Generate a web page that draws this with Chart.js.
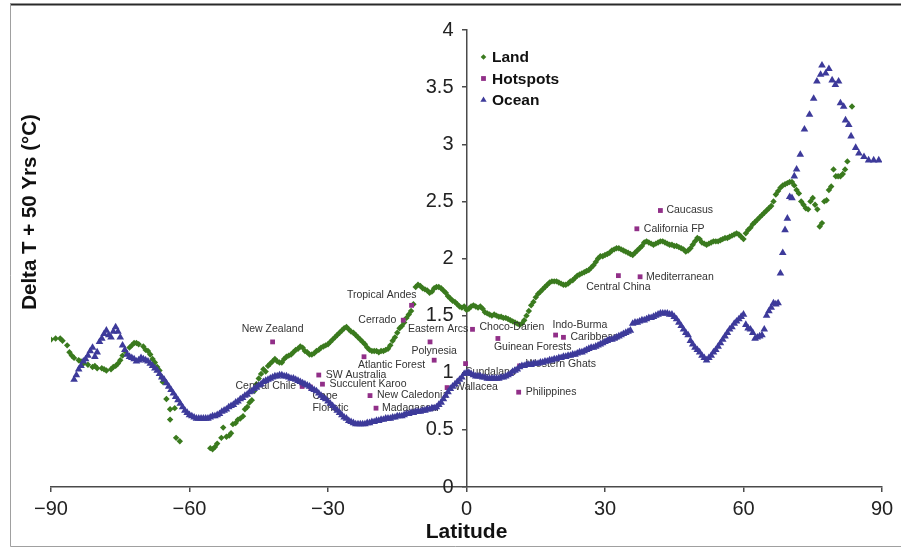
<!DOCTYPE html>
<html>
<head>
<meta charset="utf-8">
<title>Delta T by latitude</title>
<script src="https://cdn.jsdelivr.net/npm/chart.js@4.4.1/dist/chart.umd.min.js"></script>
<style>
  html, body { margin: 0; padding: 0; background: #fff; }
  canvas { display: block; }
</style>
</head>
<body>
<canvas id="lat-chart" width="901" height="549"></canvas>
<script>
// Land (green diamonds)
const landLat = [
  -90, -89, -88, -87.5, -86.5, -86, -85.5, -85, -84, -83.5,
  -83, -82, -81, -80.5, -80, -79, -78.5, -78, -77, -76.5,
  -76, -75.5, -75, -74.5, -74, -73, -72.5, -72, -71.5, -71,
  -70, -69.5, -69, -68.5, -68, -67.5, -67, -66.5, -66, -65.8,
  -65, -64.2, -63.2, -64.2, -62.9, -62.1, -55.5, -55, -54.5, -54,
  -53.1, -52.7, -52, -51.4, -51, -50.6, -50, -49.5, -49, -48.4,
  -48, -47.5, -47, -46.5, -46, -45.5, -45, -44.5, -44, -43.5,
  -43, -42.5, -42, -41.5, -41, -40.5, -40, -39.5, -39, -38.5,
  -38, -37.5, -37, -36.5, -36, -35.5, -35, -34.5, -34, -33.5,
  -33, -32.5, -32, -31.5, -31, -30.5, -30, -29.5, -29, -28.5,
  -28, -27.5, -27, -26.5, -26, -25.5, -25, -24.5, -24, -23.5,
  -23, -22.5, -22, -21.5, -21, -20.5, -20, -19.5, -19, -18.5,
  -18, -17.5, -17, -16.5, -16, -15.5, -15, -14.5, -14, -13.5,
  -13, -12.5, -12, -11.5, -11, -10.5, -10, -9.5, -9, -8.5,
  -8, -7.5, -7, -6.5, -6, -5.5, -5, -4.5, -4, -3.5,
  -3, -2.5, -2, -1.5, -1, -0.5, 0, 0.5, 1, 1.5,
  2, 2.5, 3, 3.5, 4, 4.5, 5, 5.5, 6, 6.5,
  7, 7.5, 8, 8.5, 9, 9.5, 10, 10.5, 11, 11.5,
  12, 12.5, 13, 13.5, 14, 14.5, 15, 15.5, 16, 16.5,
  17, 17.5, 18, 18.5, 19, 19.5, 20, 20.5, 21, 21.5,
  22, 22.5, 23, 23.5, 24, 24.5, 25, 25.5, 26, 26.5,
  27, 27.5, 28, 28.5, 29, 29.5, 30, 30.5, 31, 31.5,
  32, 32.5, 33, 33.5, 34, 34.5, 35, 35.5, 36, 36.5,
  37, 37.5, 38, 38.5, 39, 39.5, 40, 40.5, 41, 41.5,
  42, 42.5, 43, 43.5, 44, 44.5, 45, 45.5, 46, 46.5,
  47, 47.5, 48, 48.5, 49, 49.5, 50, 50.5, 51, 51.5,
  52, 52.5, 53, 53.5, 54, 54.5, 55, 55.5, 56, 56.5,
  57, 57.5, 58, 58.5, 59, 59.5, 60, 60.5, 61, 61.5,
  62, 62.5, 63, 63.5, 64, 64.5, 65, 65.5, 66, 66.5,
  67, 67.5, 68, 68.5, 69, 69.5, 70, 70.5, 71, 71.5,
  72, 72.5, 73, 73.5, 74, 74.5, 75, 75.5, 76, 76.5,
  77, 77.5, 78, 78.5, 79, 79.5, 80, 80.5, 81, 81.5,
  82, 82.5, 83.5
];
const landDelta = [
  1.29, 1.30, 1.30, 1.28, 1.24, 1.18, 1.15, 1.13, 1.11, 1.10,
  1.08, 1.07, 1.05, 1.06, 1.04, 1.04, 1.03, 1.02, 1.03, 1.05,
  1.06, 1.08, 1.11, 1.15, 1.19, 1.22, 1.24, 1.26, 1.26, 1.25,
  1.23, 1.20, 1.19, 1.16, 1.12, 1.09, 1.05, 1.02, 0.96, 0.92,
  0.77, 0.68, 0.69, 0.59, 0.43, 0.40, 0.34, 0.33, 0.35, 0.38,
  0.43, 0.52, 0.44, 0.45, 0.47, 0.55, 0.56, 0.59, 0.60, 0.62,
  0.68, 0.70, 0.74, 0.76, 0.84, 0.90, 0.95, 0.99, 1.03, 1.01,
  1.06, 1.08, 1.10, 1.12, 1.10, 1.09, 1.09, 1.12, 1.14, 1.15,
  1.16, 1.18, 1.20, 1.21, 1.23, 1.22, 1.19, 1.18, 1.16, 1.16,
  1.17, 1.19, 1.20, 1.22, 1.23, 1.24, 1.25, 1.27, 1.29, 1.31,
  1.33, 1.35, 1.37, 1.39, 1.40, 1.38, 1.36, 1.35, 1.33, 1.31,
  1.29, 1.27, 1.25, 1.22, 1.20, 1.19, 1.19, 1.19, 1.18, 1.19,
  1.19, 1.20, 1.21, 1.24, 1.28, 1.31, 1.35, 1.39, 1.41, 1.44,
  1.48, 1.51, 1.54, 1.60, 1.75, 1.77, 1.76, 1.74, 1.73, 1.72,
  1.70, 1.71, 1.74, 1.75, 1.75, 1.74, 1.72, 1.70, 1.67, 1.65,
  1.63, 1.62, 1.60, 1.58, 1.57, 1.58, 1.55, 1.56, 1.58, 1.59,
  1.58, 1.57, 1.58, 1.56, 1.53, 1.52, 1.51, 1.50, 1.51, 1.50,
  1.49, 1.49, 1.48, 1.48, 1.47, 1.46, 1.45, 1.44, 1.43, 1.42,
  1.43, 1.46, 1.50, 1.54, 1.59, 1.62, 1.66, 1.69, 1.71, 1.73,
  1.75, 1.77, 1.79, 1.80, 1.80, 1.80, 1.79, 1.78, 1.77, 1.77,
  1.78, 1.80, 1.81, 1.83, 1.85, 1.86, 1.87, 1.88, 1.89, 1.90,
  1.92, 1.94, 1.97, 2.00, 2.02, 2.02, 2.03, 2.04, 2.05, 2.07,
  2.08, 2.09, 2.09, 2.08, 2.07, 2.06, 2.05, 2.04, 2.03, 2.05,
  2.07, 2.09, 2.11, 2.14, 2.15, 2.14, 2.13, 2.12, 2.13, 2.14,
  2.15, 2.15, 2.14, 2.13, 2.12, 2.12, 2.11, 2.11, 2.10, 2.09,
  2.08, 2.06, 2.07, 2.09, 2.12, 2.15, 2.18, 2.17, 2.14, 2.13,
  2.12, 2.13, 2.14, 2.15, 2.15, 2.15, 2.16, 2.17, 2.18, 2.18,
  2.19, 2.20, 2.21, 2.22, 2.21, 2.19, 2.17, 2.22, 2.25, 2.27,
  2.30, 2.32, 2.34, 2.36, 2.38, 2.40, 2.42, 2.44, 2.46, 2.50,
  2.56, 2.59, 2.62, 2.64, 2.65, 2.66, 2.67, 2.67, 2.64, 2.60,
  2.57, 2.50, 2.47, 2.44, 2.43, 2.50, 2.53, 2.47, 2.43, 2.28,
  2.31, 2.50, 2.51, 2.60, 2.63, 2.78, 2.72, 2.72, 2.72, 2.74,
  2.78, 2.85, 3.33
];

// Ocean (blue triangles)
const oceanLat = [
  -85, -84.5, -84, -83.5, -83, -82.5, -82, -81.5, -81, -80.5,
  -80, -79.5, -79, -78.5, -78, -77.5, -77, -76.5, -76, -75.5,
  -75, -74.5, -74, -73.5, -73, -72.5, -72, -71.5, -71, -70.5,
  -70, -69.5, -69, -68.5, -68, -67.5, -67, -66.5, -66, -65.5,
  -65, -64.5, -64, -63.5, -63, -62.5, -62, -61.5, -61, -60.5,
  -60, -59.5, -59, -58.5, -58, -57.5, -57, -56.5, -56, -55.5,
  -55, -54.5, -54, -53.5, -53, -52.5, -52, -51.5, -51, -50.5,
  -50, -49.5, -49, -48.5, -48, -47.5, -47, -46.5, -46, -45.5,
  -45, -44.5, -44, -43.5, -43, -42.5, -42, -41.5, -41, -40.5,
  -40, -39.5, -39, -38.5, -38, -37.5, -37, -36.5, -36, -35.5,
  -35, -34.5, -34, -33.5, -33, -32.5, -32, -31.5, -31, -30.5,
  -30, -29.5, -29, -28.5, -28, -27.5, -27, -26.5, -26, -25.5,
  -25, -24.5, -24, -23.5, -23, -22.5, -22, -21.5, -21, -20.5,
  -20, -19.5, -19, -18.5, -18, -17.5, -17, -16.5, -16, -15.5,
  -15, -14.5, -14, -13.5, -13, -12.5, -12, -11.5, -11, -10.5,
  -10, -9.5, -9, -8.5, -8, -7.5, -7, -6.5, -6, -5.5,
  -5, -4.5, -4, -3.5, -3, -2.5, -2, -1.5, -1, -0.5,
  0, 0.5, 1, 1.5, 2, 2.5, 3, 3.5, 4, 4.5,
  5, 5.5, 6, 6.5, 7, 7.5, 8, 8.5, 9, 9.5,
  10, 10.5, 11, 11.5, 12, 12.5, 13, 13.5, 14, 14.5,
  15, 15.5, 16, 16.5, 17, 17.5, 18, 18.5, 19, 19.5,
  20, 20.5, 21, 21.5, 22, 22.5, 23, 23.5, 24, 24.5,
  25, 25.5, 26, 26.5, 27, 27.5, 28, 28.5, 29, 29.5,
  30, 30.5, 31, 31.5, 32, 32.5, 33, 33.5, 34, 34.5,
  35, 35.5, 36, 36.5, 37, 37.5, 38, 38.5, 39, 39.5,
  40, 40.5, 41, 41.5, 42, 42.5, 43, 43.5, 44, 44.5,
  45, 45.5, 46, 46.5, 47, 47.5, 48, 48.5, 49, 49.5,
  50, 50.5, 51, 51.5, 52, 52.5, 53, 53.5, 54, 54.5,
  55, 55.5, 56, 56.5, 57, 57.5, 58, 58.5, 59, 59.5,
  60, 60.5, 61, 61.5, 62, 62.5, 63, 63.5, 64, 64.5,
  65, 65.5, 66, 66.5, 67, 67.5, 68, 68.5, 69, 69.5,
  70, 70.5, 71, 71.5, 72.3, 73.2, 74.3, 75.2, 75.9, 76.7,
  77, 77.8, 78.5, 79.2, 79.9, 80.6, 81, 81.7, 82.1, 82.8,
  83.3, 84.3, 85, 86.1, 87.1, 88.2, 89.3
];
const oceanDelta = [
  0.94, 0.98, 1.03, 1.06, 1.10, 1.12, 1.15, 1.19, 1.22, 1.14,
  1.18, 1.27, 1.30, 1.34, 1.37, 1.33, 1.31, 1.36, 1.40, 1.36,
  1.31, 1.24, 1.20, 1.16, 1.14, 1.13, 1.12, 1.10, 1.11, 1.13,
  1.12, 1.11, 1.10, 1.08, 1.06, 1.04, 1.02, 0.99, 0.96, 0.94,
  0.91, 0.88, 0.85, 0.82, 0.79, 0.76, 0.73, 0.70, 0.67, 0.65,
  0.63, 0.62, 0.61, 0.60, 0.60, 0.60, 0.60, 0.60, 0.60, 0.61,
  0.62, 0.62, 0.63, 0.64, 0.66, 0.67, 0.68, 0.70, 0.71, 0.72,
  0.74, 0.75, 0.77, 0.78, 0.80, 0.81, 0.83, 0.84, 0.86, 0.87,
  0.89, 0.90, 0.92, 0.93, 0.94, 0.95, 0.96, 0.97, 0.97, 0.98,
  0.98, 0.97, 0.97, 0.96, 0.95, 0.95, 0.94, 0.93, 0.92, 0.91,
  0.90, 0.89, 0.88, 0.86, 0.85, 0.84, 0.82, 0.80, 0.78, 0.77,
  0.75, 0.73, 0.71, 0.69, 0.67, 0.65, 0.63, 0.61, 0.60, 0.58,
  0.57, 0.56, 0.55, 0.55, 0.55, 0.55, 0.55, 0.56, 0.56, 0.57,
  0.57, 0.58, 0.58, 0.59, 0.59, 0.60, 0.60, 0.60, 0.61, 0.61,
  0.62, 0.62, 0.62, 0.63, 0.64, 0.64, 0.65, 0.65, 0.66, 0.66,
  0.66, 0.67, 0.67, 0.68, 0.68, 0.69, 0.69, 0.70, 0.72, 0.74,
  0.77, 0.80, 0.83, 0.86, 0.88, 0.90, 0.92, 0.94, 0.96, 0.99,
  1.00, 1.00, 0.99, 0.98, 0.97, 0.97, 0.97, 0.96, 0.96, 0.95,
  0.95, 0.95, 0.95, 0.95, 0.95, 0.96, 0.96, 0.97, 0.98, 0.99,
  1.01, 1.02, 1.03, 1.05, 1.06, 1.06, 1.07, 1.07, 1.07, 1.08,
  1.08, 1.08, 1.09, 1.09, 1.10, 1.10, 1.11, 1.11, 1.12, 1.12,
  1.13, 1.13, 1.14, 1.14, 1.15, 1.15, 1.16, 1.16, 1.17, 1.18,
  1.18, 1.19, 1.20, 1.21, 1.22, 1.22, 1.23, 1.24, 1.25, 1.26,
  1.27, 1.28, 1.29, 1.29, 1.30, 1.31, 1.32, 1.33, 1.34, 1.35,
  1.36, 1.37, 1.43, 1.44, 1.44, 1.45, 1.46, 1.46, 1.47, 1.48,
  1.48, 1.49, 1.50, 1.51, 1.52, 1.52, 1.52, 1.52, 1.51, 1.51,
  1.49, 1.47, 1.44, 1.41, 1.38, 1.35, 1.33, 1.28, 1.25, 1.22,
  1.20, 1.18, 1.15, 1.13, 1.11, 1.13, 1.15, 1.18, 1.20, 1.23,
  1.26, 1.29, 1.32, 1.35, 1.38, 1.40, 1.43, 1.45, 1.47, 1.49,
  1.51, 1.42, 1.39, 1.38, 1.35, 1.30, 1.31, 1.32, 1.33, 1.38,
  1.50, 1.54, 1.57, 1.61, 1.60, 1.61, 1.87, 2.05, 2.25, 2.35,
  2.54, 2.53, 2.72, 2.78, 2.91, 3.13, 3.26, 3.40, 3.55, 3.61,
  3.69, 3.62, 3.66, 3.56, 3.52, 3.55, 3.36, 3.33, 3.21, 3.17,
  3.07, 2.97, 2.92, 2.89, 2.86, 2.86, 2.86
];

// Hotspots (purple squares with names)
const hotspotNames = [
  'New Zealand', 'Central Chile', 'SW Australia', 'Succulent Karoo', 'Cape\nFloristic',
  'New Caledonia', 'Madagascar', 'Atlantic Forest', 'Cerrado', 'Tropical Andes',
  'Eastern Arcs', 'Polynesia', 'Sundaland', 'Wallacea', 'Choco-Darien',
  'Guinean Forests', 'Indo-Burma', 'Caribbean', 'Western Ghats', 'Philippines',
  'Central China', 'Mediterranean', 'California FP', 'Caucasus'
];
const hotspotLat = [
  -42, -35.6, -32, -31.2, -33.8,
  -20.9, -19.6, -22.2, -13.7, -11.9,
  -7.9, -7, -0.2, -4.2, 1.3,
  6.8, 19.3, 21, 11.5, 11.3,
  32.9, 37.6, 36.9, 42
];
const hotspotDelta = [
  1.27, 0.88, 0.98, 0.90, 0.875,
  0.80, 0.69, 1.14, 1.46, 1.59,
  1.27, 1.11, 1.08, 0.87, 1.38,
  1.30, 1.33, 1.31, 1.06, 0.83,
  1.85, 1.84, 2.26, 2.42
];

// Axis ticks
const xTicks = [-90, -60, -30, 0, 30, 60, 90];
const yTicks = [0, 0.5, 1, 1.5, 2, 2.5, 3, 3.5, 4];

// Label placement for hotspot names: [dx, dy, align]
const labelPlacement = {
  'New Zealand': [0, -13, 'center'],
  'Central Chile': [-6, 0, 'right'],
  'SW Australia': [7, 0, 'left'],
  'Succulent Karoo': [7, 0, 'left'],
  'Cape\nFloristic': [2, 9, 'left'],
  'New Caledonia': [7, 0, 'left'],
  'Madagascar': [6, 0, 'left'],
  'Atlantic Forest': [-6, 8, 'left'],
  'Cerrado': [-7, 0, 'right'],
  'Tropical Andes': [5, -10, 'right'],
  'Eastern Arcs': [-22, -13, 'left'],
  'Polynesia': [0, -9, 'center'],
  'Sundaland': [0, 8.5, 'left'],
  'Wallacea': [8, 0, 'left'],
  'Choco-Darien': [7, -2, 'left'],
  'Guinean Forests': [-4, 9, 'left'],
  'Indo-Burma': [-3, -10, 'left'],
  'Caribbean': [7, 0, 'left'],
  'Western Ghats': [6.5, -2, 'left'],
  'Philippines': [7, 0, 'left'],
  'Central China': [0, 11, 'center'],
  'Mediterranean': [6, 0, 'left'],
  'California FP': [7, 0, 'left'],
  'Caucasus': [6, 0, 'left']
};

const landColor = '#3a7a1e';
const hotspotColor = '#912f88';
const oceanColor = '#3d3a9a';
const axisColor = '#4a4a4a';
const fontFamily = '"Liberation Sans", Arial, sans-serif';

function toPoints(xs, ys) {
  return xs.map((x, i) => ({ x: x, y: ys[i] }));
}

// Hotspot names, drawn right after the squares so the ocean marks sit on top
const hotspotLabels = {
  id: 'hotspotLabels',
  afterDatasetDraw(chart, args) {
    if (args.index !== 1) return;
    const ctx = chart.ctx;
    const meta = chart.getDatasetMeta(1);
    ctx.save();
    ctx.font = '10.5px ' + fontFamily;
    ctx.fillStyle = '#333';
    ctx.textBaseline = 'middle';
    meta.data.forEach((pt, i) => {
      const name = hotspotNames[i];
      const place = labelPlacement[name] || [7, 0, 'left'];
      ctx.textAlign = place[2];
      name.split('\n').forEach((line, k) => {
        ctx.fillText(line, pt.x + place[0], pt.y + place[1] + k * 12);
      });
    });
    ctx.restore();
  }
};

// Legend, y tick labels, y title and frame
const decorations = {
  id: 'decorations',
  beforeDraw(chart) {
    const ctx = chart.ctx;
    ctx.save();
    ctx.fillStyle = '#fff';
    ctx.fillRect(0, 0, chart.width, chart.height);
    ctx.restore();
  },
  afterDraw(chart) {
    const ctx = chart.ctx;
    const xScale = chart.scales.x;
    const yScale = chart.scales.y;
    ctx.save();

    // frame
    ctx.strokeStyle = '#2a2a2a';
    ctx.lineWidth = 2;
    ctx.beginPath();
    ctx.moveTo(10, 4.5);
    ctx.lineTo(901, 4.5);
    ctx.stroke();
    ctx.strokeStyle = '#a0a0a0';
    ctx.lineWidth = 1;
    ctx.beginPath();
    ctx.moveTo(10.5, 4);
    ctx.lineTo(10.5, 546.5);
    ctx.lineTo(901, 546.5);
    ctx.stroke();

    // y tick labels, left of the axis that sits at latitude 0
    const axisX = xScale.getPixelForValue(0);
    ctx.fillStyle = '#222';
    ctx.font = '20px ' + fontFamily;
    ctx.textAlign = 'right';
    ctx.textBaseline = 'middle';
    yTicks.forEach((v) => {
      ctx.fillText(String(v), axisX - 13, yScale.getPixelForValue(v));
    });

    // y axis title
    ctx.fillStyle = '#111';
    ctx.font = 'bold 20.5px ' + fontFamily;
    ctx.textAlign = 'center';
    ctx.translate(30, 212);
    ctx.rotate(-Math.PI / 2);
    ctx.fillText('Delta T + 50 Yrs (\u00B0C)', 0, 0);
    ctx.setTransform(1, 0, 0, 1, 0, 0);

    // legend
    const items = [
      { text: 'Land', color: landColor, style: 'rectRot', radius: 2.8, y: 58 },
      { text: 'Hotspots', color: hotspotColor, style: 'rect', radius: 3.4, y: 79.5 },
      { text: 'Ocean', color: oceanColor, style: 'triangle', radius: 3.6, y: 101 }
    ];
    ctx.font = 'bold 15.5px ' + fontFamily;
    ctx.textAlign = 'left';
    items.forEach((it) => {
      ctx.fillStyle = it.color;
      Chart.helpers.drawPoint(ctx, { pointStyle: it.style, radius: it.radius, borderWidth: 0, rotation: 0 }, 483.5, it.y - 1);
      ctx.fillStyle = '#111';
      ctx.fillText(it.text, 492, it.y);
    });
    ctx.restore();
  }
};

function initChart() {
  const canvas = document.getElementById('lat-chart');
  const ctx = canvas.getContext('2d');

  new Chart(ctx, {
    type: 'scatter',
    data: {
      datasets: [{
        label: 'Land',
        data: toPoints(landLat, landDelta),
        pointStyle: 'rectRot',
        pointRadius: 3.2,
        backgroundColor: landColor,
        borderColor: landColor,
        borderWidth: 0,
        order: 3
      },
      {
        label: 'Hotspots',
        data: toPoints(hotspotLat, hotspotDelta),
        pointStyle: 'rect',
        pointRadius: 3.4,
        backgroundColor: hotspotColor,
        borderColor: hotspotColor,
        borderWidth: 0,
        order: 2
      },
      {
        label: 'Ocean',
        data: toPoints(oceanLat, oceanDelta),
        pointStyle: 'triangle',
        pointRadius: 4.4,
        backgroundColor: oceanColor,
        borderColor: oceanColor,
        borderWidth: 0,
        order: 1
      }]
    },
    options: {
      responsive: false,
      animation: false,
      layout: {
        padding: { left: 51, right: 19, top: 30, bottom: 0 }
      },
      plugins: {
        legend: { display: false },
        tooltip: { enabled: false }
      },
      scales: {
        x: {
          type: 'linear',
          position: 'bottom',
          min: -90,
          max: 90,
          afterBuildTicks: (scale) => {
            scale.ticks = xTicks.map((v) => ({ value: v }));
          },
          afterFit: (scale) => {
            scale.height = 62;
          },
          ticks: {
            color: '#222',
            padding: 5,
            maxRotation: 0,
            font: { family: fontFamily, size: 20 },
            callback: (v) => (v < 0 ? '\u2212' + Math.abs(v) : String(v))
          },
          grid: {
            drawOnChartArea: false,
            drawTicks: true,
            tickLength: 5,
            color: axisColor,
            lineWidth: 1.5
          },
          border: { display: true, color: axisColor, width: 1.5 },
          title: {
            display: true,
            text: 'Latitude',
            color: '#111',
            font: { family: fontFamily, size: 21, weight: 'bold' },
            padding: { top: 0, bottom: 4 }
          }
        },
        y: {
          type: 'linear',
          position: { x: 0 },
          min: 0,
          max: 4,
          afterBuildTicks: (scale) => {
            scale.ticks = yTicks.map((v) => ({ value: v }));
          },
          ticks: { display: false },
          grid: {
            drawOnChartArea: false,
            drawTicks: true,
            tickLength: 4,
            color: axisColor,
            lineWidth: 1.5
          },
          border: { display: true, color: axisColor, width: 1.5 }
        }
      }
    },
    plugins: [hotspotLabels, decorations]
  });
}

document.addEventListener('DOMContentLoaded', initChart);
</script>
</body>
</html>
